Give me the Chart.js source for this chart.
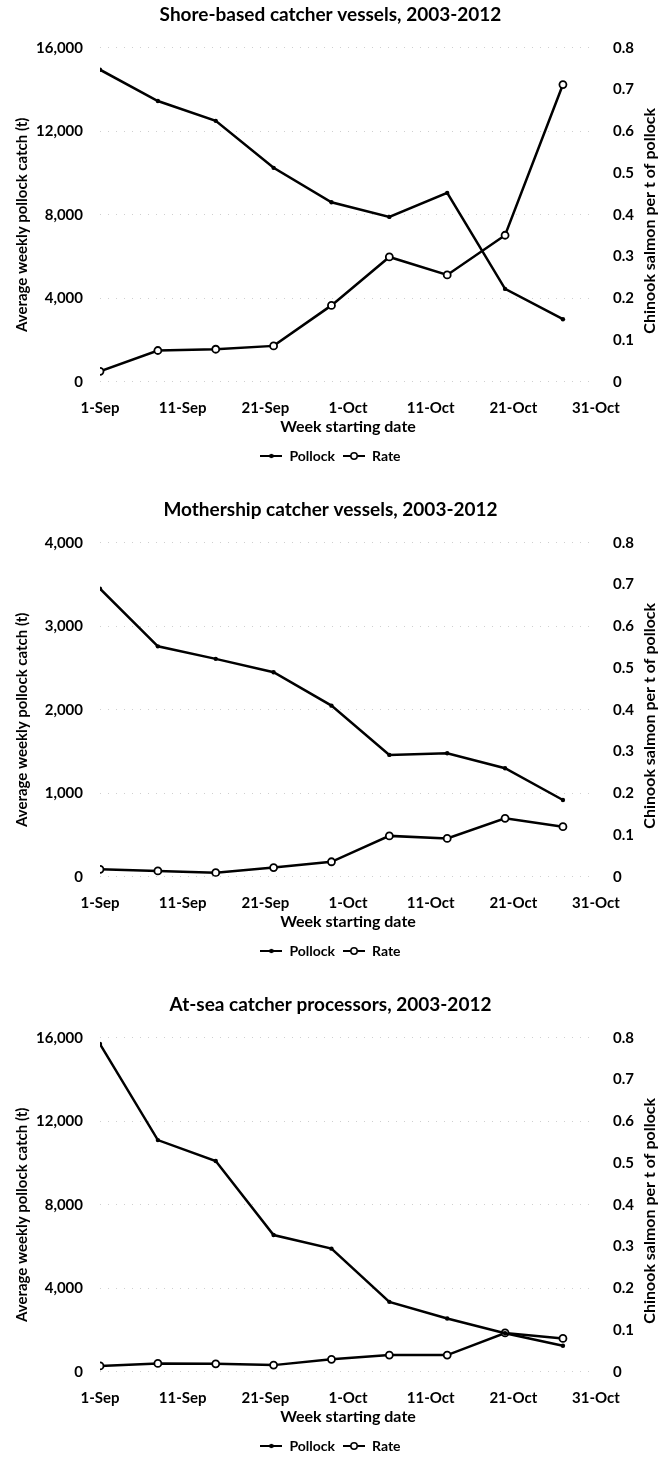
<!DOCTYPE html>
<html lang="en">
<head>
<meta charset="UTF-8">
<title>Pollock catch and Chinook salmon rate, 2003-2012</title>
<script src="https://cdn.jsdelivr.net/npm/chart.js"></script>
<style>
    html, body { margin: 0; background: #fff; width: 661px; height: 1463px; overflow: hidden; }
    .panel { position: relative; width: 661px; height: 495px; }
</style>
</head>
<body>
<div class="panel"><canvas id="shoreChart"></canvas></div>
<div class="panel"><canvas id="mothershipChart"></canvas></div>
<div class="panel"><canvas id="atSeaChart"></canvas></div>

<script>
// weeks (category) and x tick labels
const weekStarts = ['1-Sep', '8-Sep', '15-Sep', '22-Sep', '29-Sep', '6-Oct', '13-Oct', '20-Oct', '27-Oct'];
const xTickLabels = ['1-Sep', '11-Sep', '21-Sep', '1-Oct', '11-Oct', '21-Oct', '31-Oct'];

// Shore-based catcher vessels
const shorePollock = [14950, 13450, 12500, 10250, 8600, 7900, 9050, 4450, 3000];
const shoreRate = [0.025, 0.075, 0.078, 0.086, 0.183, 0.299, 0.256, 0.351, 0.712];

// Mothership catcher vessels
const motherPollock = [3450, 2760, 2610, 2450, 2050, 1460, 1480, 1300, 920];
const motherRate = [0.018, 0.014, 0.010, 0.022, 0.036, 0.098, 0.092, 0.140, 0.120];

// At-sea catcher processors
const atSeaPollock = [15700, 11100, 10100, 6550, 5900, 3350, 2550, 1850, 1250];
const atSeaRate = [0.014, 0.020, 0.019, 0.016, 0.030, 0.040, 0.040, 0.093, 0.080];

const leftTitle = 'Average weekly pollock catch (t)';
const rightTitle = 'Chinook salmon per t of pollock';

const FONT = 'Lato, "Open Sans", sans-serif';

// day number counted from 1-Sep
function seasonDay(label) {
    const [d, m] = label.split('-');
    return (m === 'Oct' ? 30 : 0) + Number(d) - 1;
}

// little line+marker images for the legend
function legendIcon(open) {
    const c = document.createElement('canvas');
    c.width = 22; c.height = 10;
    const ctx = c.getContext('2d');
    ctx.strokeStyle = '#000';
    ctx.lineWidth = 2;
    ctx.beginPath(); ctx.moveTo(0, 5); ctx.lineTo(22, 5); ctx.stroke();
    ctx.beginPath();
    if (open) {
        ctx.arc(11, 5, 3.2, 0, Math.PI * 2);
        ctx.fillStyle = '#fff'; ctx.fill();
        ctx.lineWidth = 1.5; ctx.stroke();
    } else {
        ctx.arc(11, 5, 2.2, 0, Math.PI * 2);
        ctx.fillStyle = '#000'; ctx.fill();
    }
    return c;
}
const pollockIcon = legendIcon(false);
const rateIcon = legendIcon(true);

// both y titles read bottom-to-top, so draw them here
const axisTitles = {
    id: 'axisTitles',
    afterDraw(chart) {
        const ctx = chart.ctx;
        const a = chart.chartArea;
        const mid = (a.top + a.bottom) / 2;
        ctx.save();
        ctx.fillStyle = '#000';
        ctx.textAlign = 'center';
        ctx.textBaseline = 'middle';

        ctx.font = 'bold 15px ' + FONT;
        ctx.save();
        ctx.translate(22, mid + 10);
        ctx.rotate(-Math.PI / 2);
        ctx.fillText(leftTitle, 0, 0);
        ctx.restore();

        ctx.font = 'bold 16px ' + FONT;
        ctx.translate(650, mid + 6);
        ctx.rotate(-Math.PI / 2);
        ctx.fillText(rightTitle, 0, 0);
        ctx.restore();
    }
};

function makeChart(id, title, pollock, rate, leftMax, leftStep) {
    const xs = weekStarts.map(seasonDay);
    return new Chart(document.getElementById(id), {
        type: 'line',
        data: {
            datasets: [{
                label: 'Pollock',
                data: xs.map((x, i) => ({ x: x, y: pollock[i] })),
                yAxisID: 'y',
                borderColor: '#000',
                borderWidth: 2.5,
                pointRadius: 2.2,
                pointBackgroundColor: '#000',
                pointBorderWidth: 0
            }, {
                label: 'Rate',
                data: xs.map((x, i) => ({ x: x, y: rate[i] })),
                yAxisID: 'y1',
                borderColor: '#000',
                borderWidth: 2.5,
                pointRadius: 3.5,
                pointBackgroundColor: '#fff',
                pointBorderColor: '#000',
                pointBorderWidth: 1.8
            }]
        },
        options: {
            responsive: true,
            maintainAspectRatio: false,
            animation: false,
            layout: { padding: { top: 0, bottom: 22 } },
            plugins: {
                title: {
                    display: true,
                    text: title,
                    color: '#000',
                    font: { family: FONT, size: 19, weight: 'bold' },
                    padding: { top: 3, bottom: 22 }
                },
                legend: {
                    position: 'bottom',
                    labels: {
                        color: '#000',
                        font: { family: FONT, size: 14, weight: 'bold' },
                        usePointStyle: true,
                        pointStyleWidth: 22,
                        padding: 8,
                        generateLabels: chart => [
                            { text: 'Pollock', pointStyle: pollockIcon, fillStyle: '#000', strokeStyle: '#000', lineWidth: 0, datasetIndex: 0 },
                            { text: 'Rate', pointStyle: rateIcon, fillStyle: '#000', strokeStyle: '#000', lineWidth: 0, datasetIndex: 1 }
                        ]
                    }
                },
                tooltip: { enabled: false }
            },
            scales: {
                x: {
                    type: 'linear',
                    min: 0,
                    max: 60,
                    afterBuildTicks: s => { s.ticks = xTickLabels.map(l => ({ value: seasonDay(l) })); },
                    ticks: {
                        color: '#000',
                        font: { family: FONT, size: 15, weight: 'bold' },
                        maxRotation: 0,
                        padding: 9,
                        callback: (v, i) => xTickLabels[i]
                    },
                    grid: { display: false },
                    border: { display: false },
                    title: {
                        display: true,
                        text: 'Week starting date',
                        color: '#000',
                        font: { family: FONT, size: 16, weight: 'bold' },
                        padding: { top: -9, bottom: 5 }
                    }
                },
                y: {
                    position: 'left',
                    min: 0,
                    max: leftMax,
                    ticks: {
                        stepSize: leftStep,
                        color: '#000',
                        font: { family: FONT, size: 15, weight: 'bold' },
                        padding: 17,
                        callback: v => v.toLocaleString('en-US')
                    },
                    grid: { color: '#cfcfcf', lineWidth: 1, drawTicks: false },
                    border: { display: false, dash: [1, 7] },
                    afterFit: s => { s.width = 100; }
                },
                y1: {
                    position: 'right',
                    min: 0,
                    max: 0.8,
                    ticks: {
                        stepSize: 0.1,
                        color: '#000',
                        font: { family: FONT, size: 15, weight: 'bold' },
                        padding: 17,
                        callback: v => v === 0 ? '0' : v.toFixed(1)
                    },
                    grid: { drawOnChartArea: false, drawTicks: false },
                    border: { display: false },
                    afterFit: s => { s.width = 65; }
                }
            }
        },
        plugins: [axisTitles]
    });
}

makeChart('shoreChart', 'Shore-based catcher vessels, 2003-2012', shorePollock, shoreRate, 16000, 4000);
makeChart('mothershipChart', 'Mothership catcher vessels, 2003-2012', motherPollock, motherRate, 4000, 1000);
makeChart('atSeaChart', 'At-sea catcher processors, 2003-2012', atSeaPollock, atSeaRate, 16000, 4000);
</script>
</body>
</html>
